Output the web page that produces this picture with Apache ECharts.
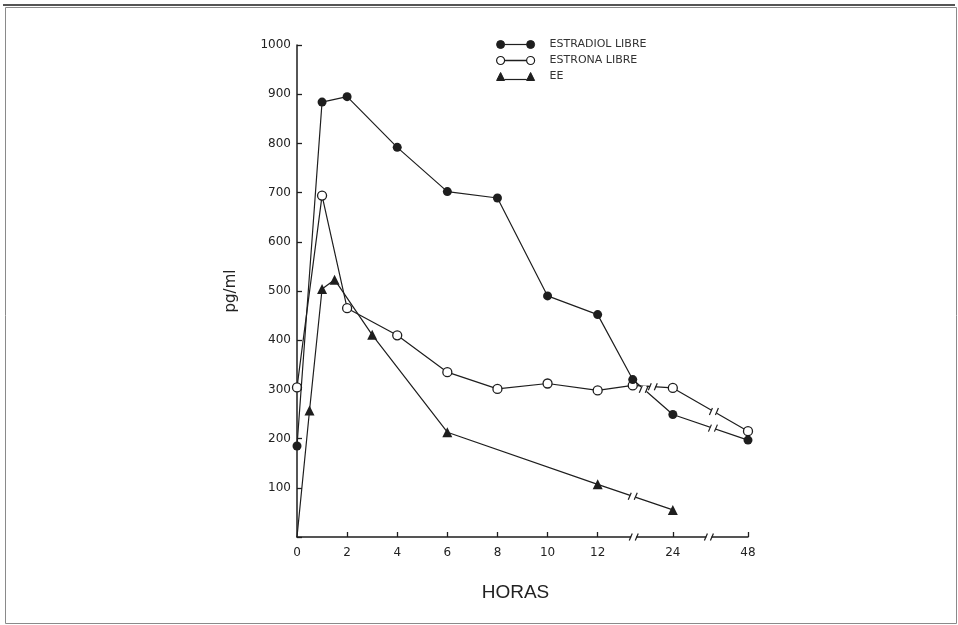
<!DOCTYPE html>
<html>
<head>
<meta charset="utf-8">
<script src="https://cdn.jsdelivr.net/npm/echarts@6/dist/echarts.min.js"></script>
<style>
  html, body { margin: 0; padding: 0; background: #ffffff; }
  #chart { width: 958px; height: 625px; }
</style>
</head>
<body>
<div id="chart"></div>
<script>
// Sampling times (hours) and concentrations (pg/ml)
const estradiolHours  = [0, 1, 2, 4, 6, 8, 10, 12, 13.4, 24, 48];
const estradiolValues = [185, 884, 895, 792, 702, 689, 490, 452, 320, 249, 197];

const estronaHours  = [0, 1, 2, 4, 6, 8, 10, 12, 13.4, 24, 48];
const estronaValues = [304, 694, 465, 410, 335, 301, 312, 298, 308, 303, 215];

const eeHours  = [0, 0.5, 1, 1.5, 3, 6, 12, 24];
const eeValues = [0, 257, 504, 523, 411, 213, 107, 55];

const seriesNames = ['ESTRADIOL LIBRE', 'ESTRONA LIBRE', 'EE'];
const xTickHours = [0, 2, 4, 6, 8, 10, 12, 24, 48];
const yTickValues = [100, 200, 300, 400, 500, 600, 700, 800, 900, 1000];

// Broken time axis: linear up to 13.5 h, then 24 h and 48 h squeezed in
const axisKnots = [[0, 0], [13.5, 13.5], [24, 15], [48, 18]];
function toAxis(h) {
  for (let i = 1; i < axisKnots.length; i++) {
    const a = axisKnots[i - 1], b = axisKnots[i];
    if (h <= b[0]) return a[1] + (h - a[0]) * (b[1] - a[1]) / (b[0] - a[0]);
  }
  return axisKnots[axisKnots.length - 1][1];
}

// Where the "//" break marks sit, in axis units
const axisBreaks = [13.44, 16.44];
const estradiolBreaks = [13.84, 16.6];
const estronaBreaks = [14.2, 16.64];
const eeBreaks = [13.4];

function interpAt(hours, values, pos) {
  const xs = hours.map(toAxis);
  for (let i = 1; i < xs.length; i++) {
    if (pos <= xs[i]) {
      const t = (pos - xs[i - 1]) / (xs[i] - xs[i - 1]);
      return values[i - 1] + t * (values[i] - values[i - 1]);
    }
  }
  return values[values.length - 1];
}

function pairs(hours, values) {
  return hours.map((h, i) => [toAxis(h), values[i]]);
}

const INK = '#1e1e1e';
const FONT = '"DejaVu Sans", sans-serif';

const breakData = []
  .concat(axisBreaks.map(p => [p, 0]))
  .concat(estradiolBreaks.map(p => [p, interpAt(estradiolHours, estradiolValues, p)]))
  .concat(estronaBreaks.map(p => [p, interpAt(estronaHours, estronaValues, p)]))
  .concat(eeBreaks.map(p => [p, interpAt(eeHours, eeValues, p)]));

function renderBreak(params, api) {
  const p = api.coord([api.value(0), api.value(1)]);
  const x = p[0], y = p[1];
  return {
    type: 'group',
    children: [
      { type: 'rect', shape: { x: x - 2.6, y: y - 3.5, width: 5.2, height: 7 }, style: { fill: '#ffffff' } },
      { type: 'line', shape: { x1: x - 4.5, y1: y + 3.5, x2: x - 1.5, y2: y - 3.5 }, style: { stroke: INK, lineWidth: 1.2 } },
      { type: 'line', shape: { x1: x + 1.5, y1: y + 3.5, x2: x + 4.5, y2: y - 3.5 }, style: { stroke: INK, lineWidth: 1.2 } }
    ]
  };
}

const iconDot = 'path://M1,5a4,4 0 1,0 8,0a4,4 0 1,0 -8,0ZM9,4.9L31,4.9L31,5.1L9,5.1ZM31,5a4,4 0 1,0 8,0a4,4 0 1,0 -8,0Z';
const iconTri = 'path://M1,9L5,1L9,9ZM9,7.9L31,7.9L31,8.1L9,8.1ZM31,9L35,1L39,9Z';

const xLabelPositions = xTickHours.map(toAxis);
function xLabel(v) {
  for (let i = 0; i < xTickHours.length; i++) {
    if (Math.abs(xLabelPositions[i] - v) < 1e-6) return String(xTickHours[i]);
  }
  return '';
}

const chart = echarts.init(document.getElementById('chart'), null, { renderer: 'canvas' });
chart.setOption({
  animation: false,
  backgroundColor: '#ffffff',
  grid: { left: 297, right: 210, top: 45, bottom: 88, containLabel: false },
  legend: {
    orient: 'vertical',
    left: 491,
    top: 34,
    itemWidth: 38,
    itemHeight: 8,
    itemGap: 5,
    selectedMode: false,
    textStyle: { fontFamily: FONT, fontSize: 11, color: '#333', padding: [0, 0, 0, 10] },
    data: [
      { name: seriesNames[0], icon: iconDot, itemStyle: { color: INK, borderColor: INK, borderWidth: 1 } },
      { name: seriesNames[1], icon: iconDot, itemStyle: { color: '#ffffff', borderColor: INK, borderWidth: 1.2 } },
      { name: seriesNames[2], icon: iconTri, itemStyle: { color: INK, borderColor: INK, borderWidth: 1 } }
    ]
  },
  xAxis: {
    type: 'value',
    min: 0,
    max: 18,
    name: 'HORAS',
    nameLocation: 'middle',
    nameGap: 46,
    nameTextStyle: { fontFamily: '"Liberation Sans", Arial, sans-serif', fontSize: 19, color: '#222', padding: [0, 14, 0, 0] },
    axisLine: { show: true, lineStyle: { color: INK, width: 1.5 } },
    axisTick: {
      show: true, inside: true, length: 5,
      customValues: xLabelPositions.slice(1),
      lineStyle: { color: INK, width: 1.3 }
    },
    axisLabel: {
      customValues: xLabelPositions,
      formatter: xLabel,
      margin: 10,
      fontFamily: FONT, fontSize: 12, color: '#222'
    },
    splitLine: { show: false }
  },
  yAxis: {
    type: 'value',
    min: 0,
    max: 1000,
    interval: 100,
    name: 'pg/ml',
    nameLocation: 'middle',
    nameGap: 58,
    nameTextStyle: { fontFamily: FONT, fontSize: 15, color: '#222' },
    axisLine: { show: true, lineStyle: { color: INK, width: 1.5 } },
    axisTick: { show: true, inside: true, length: 5, lineStyle: { color: INK, width: 1.3 } },
    axisLabel: {
      customValues: yTickValues,
      formatter: v => String(v),
      margin: 6,
      fontFamily: FONT, fontSize: 12, color: '#222'
    },
    splitLine: { show: false }
  },
  graphic: [
    { type: 'rect', left: 3, top: 5, shape: { width: 951, height: 616 }, style: { fill: 'none', stroke: '#8a8a8a', lineWidth: 1 }, silent: true },
    { type: 'line', shape: { x1: 3, y1: 5, x2: 955, y2: 5 }, style: { stroke: '#555', lineWidth: 2 }, silent: true }
  ],
  series: [
    {
      name: seriesNames[2],
      type: 'line',
      data: pairs(eeHours, eeValues).map((d, i) => i === 0 ? { value: d, symbol: 'none' } : d),
      symbol: 'triangle',
      symbolSize: 10,
      itemStyle: { color: INK },
      lineStyle: { color: INK, width: 1.2 },
      z: 2
    },
    {
      name: seriesNames[1],
      type: 'line',
      data: pairs(estronaHours, estronaValues),
      symbol: 'circle',
      symbolSize: 9,
      showAllSymbol: true,
      itemStyle: { color: '#ffffff', borderColor: INK, borderWidth: 1.3 },
      lineStyle: { color: INK, width: 1.2 },
      z: 3
    },
    {
      name: seriesNames[0],
      type: 'line',
      data: pairs(estradiolHours, estradiolValues),
      symbol: 'circle',
      symbolSize: 9,
      showAllSymbol: true,
      itemStyle: { color: INK },
      lineStyle: { color: INK, width: 1.2 },
      z: 4
    },
    {
      name: 'breaks',
      type: 'custom',
      renderItem: renderBreak,
      data: breakData,
      clip: false,
      silent: true,
      z: 6
    }
  ]
});
</script>
</body>
</html>
